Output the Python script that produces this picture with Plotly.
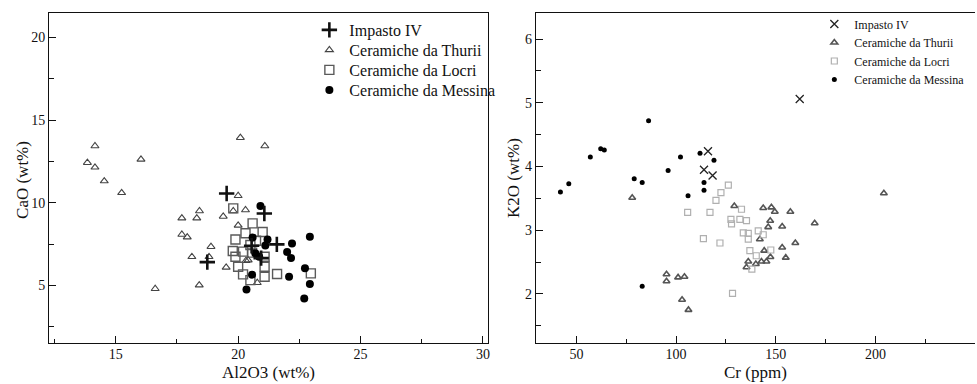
import plotly.graph_objects as go

# --- Al2O3 vs CaO (wt%) ---
imp_al2o3 = [19.53, 21.07, 21.58, 18.74, 20.55, 20.94]
imp_cao = [10.56, 9.35, 7.48, 6.41, 7.40, 6.65]

thu_al2o3 = [14.15, 13.84, 14.15, 14.53, 15.24, 16.03, 20.09, 21.09, 20.0, 17.70,
             18.31, 18.42, 19.39, 19.80, 20.30, 17.70, 17.92, 20.0, 18.89, 18.11,
             18.81, 19.51, 20.32, 20.41, 18.41, 16.61, 20.78]
thu_cao = [13.43, 12.42, 12.14, 11.31, 10.60, 12.62, 13.93, 13.43, 10.42, 9.07,
           9.07, 9.50, 9.17, 9.50, 9.56, 8.08, 7.92, 8.63, 7.34, 6.73,
           6.73, 6.09, 6.49, 6.53, 5.02, 4.80, 5.16]

loc_al2o3 = [19.80, 20.59, 20.30, 21.0, 19.89, 20.73, 19.78, 20.20, 20.50, 20.57,
             21.08, 19.89, 20.0, 21.08, 20.20, 20.50, 21.08, 21.59, 22.97]
loc_cao = [9.66, 8.75, 8.15, 8.23, 7.78, 7.70, 7.08, 7.04, 7.44, 6.98,
           6.73, 6.73, 6.13, 6.13, 5.67, 5.32, 5.52, 5.69, 5.73]

mes_al2o3 = [20.91, 20.59, 21.20, 21.11, 22.20, 22.93, 22.0, 22.16, 20.70, 20.86,
             20.57, 22.08, 22.73, 22.93, 22.70, 20.34]
mes_cao = [9.80, 7.90, 7.78, 7.42, 7.54, 7.94, 7.02, 6.65, 6.94, 6.73,
           5.65, 5.52, 6.03, 5.08, 4.21, 4.76]

# --- Cr (ppm) vs K2O (wt%) ---
imp_cr = [116.0, 114.0, 118.3, 162.0]
imp_k2o = [4.24, 3.95, 3.86, 5.06]

thu_cr = [78.0, 95.2, 95.2, 101.0, 104.2, 103.0, 106.2, 129.2, 143.7, 147.8,
          149.5, 157.3, 147.2, 146.2, 153.2, 169.5, 204.2, 142.0, 144.2, 153.2,
          159.8, 147.3, 155.0, 136.2, 135.3, 140.0, 142.8, 145.3]
thu_k2o = [3.51, 2.31, 2.20, 2.26, 2.27, 1.91, 1.75, 3.38, 3.35, 3.36,
           3.29, 3.29, 3.15, 3.05, 3.06, 3.11, 3.58, 2.86, 2.68, 2.73,
           2.80, 2.58, 2.57, 2.51, 2.42, 2.47, 2.51, 2.51]

loc_cr = [126.2, 122.5, 120.0, 105.8, 117.0, 132.8, 127.5, 132.0, 135.3, 127.8,
          133.7, 136.2, 136.2, 141.2, 143.7, 113.7, 122.0, 137.0, 140.2, 147.5,
          138.0, 128.3]
loc_k2o = [3.71, 3.59, 3.47, 3.28, 3.28, 3.33, 3.17, 3.17, 3.15, 3.10,
           2.96, 2.95, 2.86, 2.99, 2.93, 2.87, 2.80, 2.68, 2.60, 2.69,
           2.39, 2.01]

mes_cr = [42.0, 46.2, 57.0, 62.2, 64.0, 79.0, 83.0, 86.2, 96.0, 102.2,
          106.0, 112.0, 114.0, 114.0, 119.0, 83.0]
mes_k2o = [3.60, 3.73, 4.15, 4.28, 4.26, 3.81, 3.75, 4.72, 3.94, 4.15,
           3.54, 4.21, 3.75, 3.63, 4.10, 2.12]

names = ["Impasto IV", "Ceramiche da Thurii", "Ceramiche da Locri", "Ceramiche da Messina"]

FONT = "Liberation Serif, Times New Roman, serif"
W, H = 977, 384

fig = go.Figure()

# left panel: one single-entry legend per series so the rows can be spaced freely
left_style = [
    dict(symbol="cross-thin-open", size=11, color="#111", line=dict(color="#111", width=2.6)),
    dict(symbol="triangle-up-open", size=7, color="#444", line=dict(color="#444", width=1.1)),
    dict(symbol="square-open", size=9, color="#5a5a5a", line=dict(color="#5a5a5a", width=1.4)),
    dict(symbol="circle", size=8, color="#000", line=dict(width=0)),
]
left_data = [(imp_al2o3, imp_cao), (thu_al2o3, thu_cao), (loc_al2o3, loc_cao), (mes_al2o3, mes_cao)]
left_legends = ["legend", "legend2", "legend3", "legend4"]
order = [1, 2, 3, 0]  # crosses drawn last so they stay on top
for i in order:
    xs, ys = left_data[i]
    fig.add_trace(go.Scatter(x=xs, y=ys, mode="markers", name=names[i], marker=left_style[i],
                             xaxis="x", yaxis="y", legend=left_legends[i], showlegend=True))

# right panel
right_style = [
    dict(symbol="x-thin-open", size=8, color="#222", line=dict(color="#222", width=1.3)),
    dict(symbol="triangle-up-open", size=6, color="#555", line=dict(color="#555", width=1.6)),
    dict(symbol="square-open", size=6, color="#b0b0b0", line=dict(color="#b0b0b0", width=1.2)),
    dict(symbol="circle", size=5, color="#000", line=dict(width=0)),
]
right_data = [(imp_cr, imp_k2o), (thu_cr, thu_k2o), (loc_cr, loc_k2o), (mes_cr, mes_k2o)]
right_legends = ["legend5", "legend6", "legend7", "legend8"]
for i in order:
    xs, ys = right_data[i]
    fig.add_trace(go.Scatter(x=xs, y=ys, mode="markers", name=names[i], marker=right_style[i],
                             xaxis="x2", yaxis="y2", legend=right_legends[i], showlegend=True))

y_dom = [1 - 343.3 / H, 1 - 13 / H]

def axis_common(**kw):
    d = dict(showline=True, linecolor="#111", linewidth=1.2, mirror=True,
             ticks="inside", ticklen=7, tickwidth=1, tickcolor="#111",
             showgrid=False, zeroline=False,
             tickfont=dict(family=FONT, size=14, color="#111"))
    d.update(kw)
    return d

def legend_row(x_px, y_px, size):
    return dict(x=x_px / W, y=1 - y_px / H, xanchor="left", yanchor="middle",
                bgcolor="rgba(0,0,0,0)", borderwidth=0, visible=True,
                font=dict(family=FONT, size=size, color="#111"))

layout_legends = {}
for k, name in enumerate(left_legends):
    layout_legends[name] = legend_row(310, 30 + 20 * k, 16)
for k, name in enumerate(right_legends):
    layout_legends[name] = legend_row(816, 24 + 18.5 * k, 12)

title_font = dict(family=FONT, size=17, color="#111")
axis_titles = [
    dict(text="Al2O3 (wt%)", x=(49.3 + 489.3) / 2 / W, y=1 - 372 / H, textangle=0),
    dict(text="Cr (ppm)", x=(537 + 977) / 2 / W, y=1 - 372 / H, textangle=0),
    dict(text="CaO (wt%)", x=22 / W, y=1 - 180 / H, textangle=-90),
    dict(text="K2O (wt%)", x=514 / W, y=1 - 178 / H, textangle=-90),
]
annotations = [dict(xref="paper", yref="paper", xanchor="center", yanchor="middle",
                    showarrow=False, font=title_font, **a) for a in axis_titles]

fig.update_layout(
    width=W, height=H,
    margin=dict(l=0, r=0, t=0, b=0),
    paper_bgcolor="white", plot_bgcolor="white",
    font=dict(family=FONT, color="#111"),
    showlegend=True,
    xaxis=axis_common(domain=[49.3 / W, 489.3 / W], range=[12.28, 30.22], dtick=5, tick0=0,
                      minor=dict(dtick=2.5, ticks="inside", ticklen=4, tickcolor="#111"),
                      anchor="y", ticklabelstandoff=-2),
    yaxis=axis_common(domain=y_dom, range=[1.5, 21.47], dtick=5, tick0=0,
                      minor=dict(dtick=2.5, ticks="inside", ticklen=5, tickcolor="#111"),
                      anchor="x"),
    xaxis2=axis_common(domain=[537 / W, 1.0], range=[29.7, 249.9], dtick=50, tick0=0,
                       minor=dict(dtick=25, ticks="inside", ticklen=4, tickcolor="#111"),
                       anchor="y2", ticklabelstandoff=-2),
    yaxis2=axis_common(domain=y_dom, range=[1.226, 6.41], dtick=1, tick0=0, mirror=False,
                       minor=dict(dtick=0.5, ticks="inside", ticklen=5, tickcolor="#111"),
                       anchor="x2"),
    annotations=annotations,
    **layout_legends,
)

fig.write_html("out.html")
